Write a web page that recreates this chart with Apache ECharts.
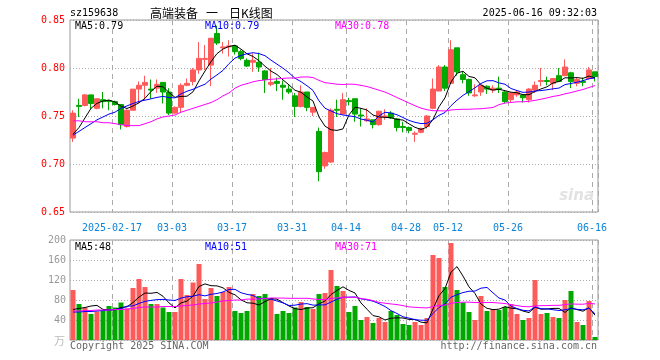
<!DOCTYPE html>
<html>
<head>
<meta charset="utf-8">
<script src="https://cdn.jsdelivr.net/npm/echarts@6/dist/echarts.min.js"></script>
<style>html,body{margin:0;padding:0;background:#fff}#c{width:660px;height:360px}</style>
</head>
<body>
<div id="c"></div>
<script>
const dates = ['2025-02-06','2025-02-07','2025-02-10','2025-02-11','2025-02-12','2025-02-13','2025-02-14','2025-02-17','2025-02-18','2025-02-19','2025-02-20','2025-02-21','2025-02-24','2025-02-25','2025-02-26','2025-02-27','2025-02-28',
'2025-03-03','2025-03-04','2025-03-05','2025-03-06','2025-03-07','2025-03-10','2025-03-11','2025-03-12','2025-03-13','2025-03-14','2025-03-17','2025-03-18','2025-03-19','2025-03-20','2025-03-21','2025-03-24','2025-03-25','2025-03-26','2025-03-27','2025-03-28','2025-03-31',
'2025-04-01','2025-04-02','2025-04-03','2025-04-07','2025-04-08','2025-04-09','2025-04-10','2025-04-11','2025-04-14','2025-04-15','2025-04-16','2025-04-17','2025-04-18','2025-04-21','2025-04-22','2025-04-23','2025-04-24','2025-04-25','2025-04-28','2025-04-29','2025-04-30',
'2025-05-06','2025-05-07','2025-05-08','2025-05-09','2025-05-12','2025-05-13','2025-05-14','2025-05-15','2025-05-16','2025-05-19','2025-05-20','2025-05-21','2025-05-22','2025-05-23','2025-05-26','2025-05-27','2025-05-28','2025-05-29','2025-05-30',
'2025-06-03','2025-06-04','2025-06-05','2025-06-06','2025-06-09','2025-06-10','2025-06-11','2025-06-12','2025-06-13','2025-06-16'];

const opens = [0.727,0.761,0.761,0.772,0.758,0.767,0.766,0.765,0.762,0.739,
0.756,0.778,0.782,0.778,0.779,0.785,0.775,0.753,0.759,0.782,
0.786,0.798,0.809,0.803,0.836,0.821,0.822,0.823,0.817,0.808,
0.806,0.806,0.797,0.783,0.786,0.782,0.778,0.771,0.760,0.775,
0.754,0.734,0.698,0.702,0.757,0.752,0.766,0.768,0.751,0.745,
0.746,0.741,0.749,0.753,0.747,0.739,0.738,0.731,0.733,0.739,
0.758,0.776,0.801,0.784,0.821,0.793,0.788,0.771,0.775,0.781,
0.777,0.779,0.775,0.767,0.772,0.772,0.767,0.777,0.786,0.787,
0.784,0.792,0.792,0.795,0.784,0.786,0.789,0.796];

const closes = [0.753,0.760,0.772,0.763,0.768,0.765,0.765,0.762,0.741,0.756,
0.778,0.782,0.785,0.777,0.783,0.775,0.753,0.759,0.782,0.784,
0.798,0.810,0.810,0.831,0.826,0.822,0.823,0.817,0.810,0.802,
0.808,0.801,0.788,0.785,0.784,0.780,0.775,0.760,0.775,0.759,
0.759,0.692,0.712,0.756,0.756,0.767,0.765,0.752,0.750,0.747,
0.741,0.755,0.750,0.748,0.738,0.738,0.735,0.732,0.737,0.750,
0.778,0.801,0.779,0.819,0.796,0.788,0.774,0.772,0.782,0.778,
0.779,0.778,0.765,0.774,0.775,0.769,0.778,0.782,0.787,0.786,
0.789,0.786,0.801,0.786,0.788,0.785,0.798,0.791];

const lows = [0.723,0.749,0.760,0.757,0.757,0.758,0.756,0.761,0.736,0.738,
0.756,0.763,0.767,0.768,0.774,0.763,0.751,0.752,0.753,0.781,
0.782,0.794,0.798,0.781,0.824,0.815,0.812,0.814,0.808,0.801,
0.796,0.796,0.774,0.781,0.776,0.767,0.773,0.749,0.759,0.755,
0.750,0.682,0.695,0.701,0.749,0.752,0.761,0.744,0.739,0.744,
0.737,0.740,0.746,0.747,0.734,0.733,0.732,0.723,0.732,0.737,
0.757,0.776,0.776,0.784,0.792,0.784,0.771,0.770,0.771,0.773,
0.774,0.774,0.763,0.764,0.770,0.764,0.764,0.774,0.781,0.782,
0.777,0.786,0.792,0.779,0.781,0.781,0.788,0.786];

const highs = [0.756,0.768,0.773,0.772,0.768,0.775,0.767,0.766,0.762,0.757,
0.778,0.786,0.792,0.788,0.788,0.785,0.779,0.760,0.784,0.789,
0.800,0.827,0.824,0.831,0.844,0.827,0.829,0.824,0.819,0.810,
0.815,0.816,0.798,0.800,0.790,0.787,0.782,0.774,0.782,0.775,
0.759,0.738,0.713,0.758,0.767,0.774,0.769,0.768,0.758,0.758,
0.746,0.755,0.757,0.755,0.748,0.744,0.739,0.734,0.738,0.751,
0.789,0.803,0.803,0.829,0.821,0.796,0.789,0.783,0.782,0.782,
0.782,0.791,0.776,0.775,0.777,0.773,0.779,0.786,0.800,0.791,
0.789,0.800,0.809,0.796,0.790,0.790,0.801,0.796];

const volumes = [100,72,65,52,57,60,68,65,75,63,
104,122,106,72,72,65,56,56,122,90,
115,152,82,104,88,96,106,58,54,58,
92,88,92,84,52,58,54,65,76,66,
62,92,94,140,108,98,56,68,40,46,
34,44,36,58,50,32,30,36,30,44,
170,164,106,194,100,75,56,40,88,58,
62,60,66,72,52,40,44,120,52,54,
46,44,80,98,36,30,78,6];

// moving-average values before enough closes exist in the window
const ma5Head = [0.731,0.738,0.748,0.758];
const ma10Head = [0.730,0.734,0.738,0.742,0.746,0.749,0.752,0.754,0.758];
const ma30Head = [0.745,0.745,0.744,0.744,0.744,0.743,0.743,0.742,0.741,0.740,0.740,0.740,0.742,0.744,0.747,0.749,0.750,0.751,0.754,0.756,0.758,0.760,0.762,0.764,0.767,0.771,0.774,0.779,0.782];
const volMa5Head = [61,63,65,68];
const volMa10Head = [56,56,57,57,58,59,60,61,63];
const volMa30Head = [58,58,59,59,60,60,60,61,61,62,63,65,66,66,66,67,67,67,68,69,70,72,73,74,76,78,79,80,80];

const labelDates = ['2025-02-17','2025-03-03','2025-03-17','2025-03-31','2025-04-14','2025-04-28','2025-05-12','2025-05-26','2025-06-16'];
const titleParts = ['高端装备', '一', '日K线图'];
const priceMaLabels = ['MA5:0.79','MA10:0.79','MA30:0.78'];
const volMaLabels = ['MA5:48','MA10:51','MA30:71'];

function movingAvg(vals, n, head) {
  return vals.map((v, i) => {
    if (i < n - 1) return head[i];
    let s = 0; for (let k = i - n + 1; k <= i; k++) s += vals[k];
    return +(s / n).toFixed(4);
  });
}

const RED = '#ff5a5a', GREEN = '#00a800';
const labelSet = new Set(labelDates.map(d => dates.indexOf(d)));
const isLabel = (i) => labelSet.has(i);
const mono = '"DejaVu Sans Mono", monospace';
const cjk = '12px "Noto Sans CJK SC"';

const kData = dates.map((d, i) => [opens[i], closes[i], lows[i], highs[i]]);
const volData = volumes.map((v, i) => ({ value: v, itemStyle: { color: closes[i] >= opens[i] ? RED : GREEN } }));

const chart = echarts.init(document.getElementById('c'), null, { renderer: 'canvas' });
const splitX = { show: true, interval: (i) => isLabel(i), lineStyle: { color: '#aaa', type: [5, 4], width: 1 } };
const splitY = { show: true, lineStyle: { color: '#aaa', type: [1, 2], width: 1 } };

function lineSeries(name, data, color, xi, yi) {
  return { name, type: 'line', data, xAxisIndex: xi, yAxisIndex: yi, showSymbol: false, symbol: 'none',
    lineStyle: { color, width: 1 }, itemStyle: { color }, silent: true, z: 3 };
}

function txt(text, x, y, color, align, font) {
  return { type: 'text', silent: true, z: 100,
    style: { text, x, y, fill: color, font: font || ('10px ' + mono), textAlign: align || 'left', textVerticalAlign: 'middle' } };
}

chart.setOption({
  animation: false,
  backgroundColor: '#fff',
  grid: [
    { left: 70, top: 20, width: 528, height: 192, show: true, borderColor: '#999', borderWidth: 1, backgroundColor: 'transparent' },
    { left: 70, top: 240, width: 528, height: 100, show: true, borderColor: '#999', borderWidth: 1, backgroundColor: 'transparent' }
  ],
  xAxis: [
    { type: 'category', gridIndex: 0, data: dates, boundaryGap: true,
      axisLine: { show: false }, axisTick: { show: false },
      axisLabel: { interval: (i) => isLabel(i), color: '#0c84d8', fontFamily: mono, fontSize: 10, margin: 11, padding: [0, 6, 0, 0],
        formatter: (v) => v === labelDates[0] ? v : v.slice(5) },
      splitLine: splitX },
    { type: 'category', gridIndex: 1, data: dates, boundaryGap: true,
      axisLine: { show: false }, axisTick: { show: false }, axisLabel: { show: false },
      splitLine: splitX }
  ],
  yAxis: [
    { type: 'value', gridIndex: 0, min: 0.65, max: 0.85, interval: 0.05, scale: true,
      axisLine: { show: false }, axisTick: { show: false },
      axisLabel: { color: '#ff0000', fontFamily: mono, fontSize: 10, margin: 5, formatter: (v) => v.toFixed(2) },
      splitLine: splitY },
    { type: 'value', gridIndex: 1, min: 0, max: 200, interval: 40,
      axisLine: { show: false }, axisTick: { show: false },
      axisLabel: { color: '#999', fontFamily: mono, fontSize: 10, margin: 4, formatter: (v) => v === 0 ? '' : String(v) },
      splitLine: splitY }
  ],
  series: [
    { name: 'K', type: 'candlestick', data: kData, xAxisIndex: 0, yAxisIndex: 0, barWidth: 5, silent: true, z: 2,
      itemStyle: { color: RED, color0: GREEN, borderColor: RED, borderColor0: GREEN, borderWidth: 1 } },
    lineSeries('MA5', movingAvg(closes, 5, ma5Head), '#000000', 0, 0),
    lineSeries('MA10', movingAvg(closes, 10, ma10Head), '#0000ff', 0, 0),
    lineSeries('MA30', movingAvg(closes, 30, ma30Head), '#ff00ff', 0, 0),
    { name: 'VOL', type: 'bar', data: volData, xAxisIndex: 1, yAxisIndex: 1, barWidth: 5, silent: true, z: 2 },
    lineSeries('VMA5', movingAvg(volumes, 5, volMa5Head), '#000000', 1, 1),
    lineSeries('VMA10', movingAvg(volumes, 10, volMa10Head), '#0000ff', 1, 1),
    lineSeries('VMA30', movingAvg(volumes, 30, volMa30Head), '#ff00ff', 1, 1)
  ],
  graphic: [
    txt('sz159638', 70, 13, '#000'),
    txt(titleParts[0], 150, 13, '#000', 'left', cjk),
    txt(titleParts[1], 206, 13, '#000', 'left', cjk),
    txt(titleParts[2], 229, 13, '#000', 'left', cjk),
    txt('2025-06-16 09:32:03', 597, 13, '#000', 'right'),
    txt(priceMaLabels[0], 75, 26, '#000'),
    txt(priceMaLabels[1], 205, 26, '#0000ff'),
    txt(priceMaLabels[2], 335, 26, '#ff00ff'),
    txt(volMaLabels[0], 75, 247, '#000'),
    txt(volMaLabels[1], 205, 247, '#0000ff'),
    txt(volMaLabels[2], 335, 247, '#ff00ff'),
    txt('万', 65, 341, '#bbb', 'right', '11px "Noto Sans CJK SC"'),
    txt('Copyright 2025 SINA.COM', 70, 346, '#666'),
    txt('http://finance.sina.com.cn', 597, 346, '#666', 'right'),
    txt('sina', 594, 196, '#e2e2e2', 'right', 'italic bold 15px "DejaVu Sans"')
  ]
});
</script>
</body>
</html>
